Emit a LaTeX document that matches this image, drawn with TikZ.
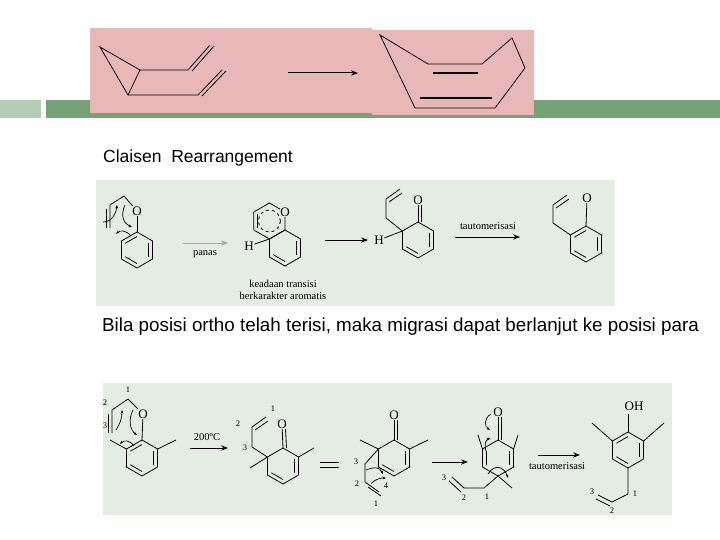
\documentclass[tikz,border=0pt]{standalone}
\usepackage{fontspec}
\setmainfont{Liberation Serif}
\newfontfamily\arialf{Liberation Sans}
\usetikzlibrary{arrows.meta,calc}
\definecolor{pinkbg}{HTML}{E8B8B9}
\definecolor{barg}{HTML}{76A277}
\definecolor{barl}{HTML}{B2CDB3}
\definecolor{boxg}{HTML}{E5ECE4}
\tikzset{bond/.style={line width=0.8pt,black},
 rarrow/.style={line width=1pt,-{Stealth[length=7pt]}},
 curly/.style={line width=0.7pt,-{Stealth[length=3.5pt]}},
 atom/.style={font=\fontsize{13}{13}\selectfont,inner sep=0.5pt},
 num/.style={font=\fontsize{8.5}{8.5}\selectfont,inner sep=0.5pt},
 lbl/.style={font=\fontsize{10.5}{12}\selectfont,inner sep=1pt}}
\newcommand\ringat[4]{% name, x, y, r
 \coordinate (#1c) at (#2,#3);
 \coordinate (#11) at ($(#2,#3)+(270:#4)$);
 \coordinate (#12) at ($(#2,#3)+(330:#4)$);
 \coordinate (#13) at ($(#2,#3)+(30:#4)$);
 \coordinate (#14) at ($(#2,#3)+(90:#4)$);
 \coordinate (#15) at ($(#2,#3)+(150:#4)$);
 \coordinate (#16) at ($(#2,#3)+(210:#4)$);
 \draw[bond] (#11)--(#12)--(#13)--(#14)--(#15)--(#16)--cycle;}
\newcommand\inb[3]{\draw[bond] ($(#1c)!0.75!(#1#2)$)--($(#1c)!0.75!(#1#3)$);}
\begin{document}
\begin{tikzpicture}[x=1pt,y=-1pt]
\useasboundingbox (0,0) rectangle (720,540);
% header bar
\fill[barl] (0,100) rectangle (41,118);
\fill[barg] (46,100) rectangle (720,118);
\fill[pinkbg] (90,28) rectangle (372,113);
\fill[pinkbg] (372,30) rectangle (534,115);
% top left molecule
\coordinate (p1) at (100,47); \coordinate (p2) at (140,70); \coordinate (p3) at (128,95);
\coordinate (p4) at (188,70); \coordinate (p5) at (210,45);
\coordinate (p6) at (198,95); \coordinate (p7) at (222,70);
\draw[bond] (p1)--(p2)--(p3)--cycle; \draw[bond] (p2)--(p4)--(p5); \draw[bond] (p3)--(p6)--(p7);
\draw[bond] ($(p4)+(4,1)$)--($(p5)+(4,1)$); \draw[bond] ($(p6)+(4,1)$)--($(p7)+(4,1)$);
\coordinate (ta1) at (288,73); \coordinate (ta2) at (358,73);
\draw[rarrow] (ta1)--(ta2);
\coordinate (q1) at (380,35); \coordinate (q2) at (428,64); \coordinate (q3) at (482,64);
\coordinate (q4) at (512,38); \coordinate (q5) at (525,68); \coordinate (q6) at (495,108); \coordinate (q7) at (415,108);
\draw[bond] (q1)--(q2)--(q3)--(q4)--(q5)--(q6)--(q7)--cycle;
\draw[line width=1.3pt] (433,73)--(478,73); \draw[line width=1.3pt] (420,98)--(492,98);
% texts
\node[anchor=west,font=\arialf\fontsize{17.5}{18}\selectfont,inner sep=0] (t1) at (103,158) {Claisen\ \ Rearrangement};
\node[anchor=west,font=\arialf\fontsize{18.8}{19}\selectfont,inner sep=0] (t2) at (102,327) {Bila posisi ortho telah terisi, maka migrasi dapat berlanjut ke posisi para};
% box 1
\fill[boxg] (96,180) rectangle (615,306);
\ringat{a}{137}{250}{18}
\inb{a}{2}{3}\inb{a}{4}{5}\inb{a}{6}{1}
\node[atom,fill=boxg] (oa) at (137,211) {O};
\draw[bond] (a1)--(oa); \coordinate (a7) at (124,196); \coordinate (a8) at (110,205); \coordinate (a9) at (110,228);
\draw[bond] (oa)--(a7)--(a8)--(a9); \draw[bond] (106,209)--(106,228);
\draw[curly] (103,222) .. controls (112,222) and (116,214) .. (117,205);
\draw[curly] (125,205) .. controls (120,216) and (124,224) .. (132,227);
\draw[curly] (131,236) .. controls (126,230) and (120,230) .. (116,234);
\draw[rarrow,gray!70] (183,243)--(228,243);
\node[lbl] (pn) at (205,254) {panas};
\ringat{b}{285}{248}{18}
\ringat{c}{269.4}{221}{18}
\inb{b}{2}{3}\inb{b}{4}{5}\inb{c}{5}{6}
\draw[bond,dashed] (cc) circle (11);
\node[atom,fill=boxg] (ob) at (c2) {O};
\node[atom] (hb) at (249,246) {H};
\draw[bond] (hb)--(b6);
\node[lbl,align=center] (kt) at (283,290) {keadaan transisi\\berkarakter aromatis};
\draw[rarrow] (325,240)--(368,240);
\ringat{d}{418}{240}{18}
\inb{d}{2}{3}\inb{d}{4}{5}
\node[atom] (od) at (418,200) {O};
\draw[bond] (d1)--(od); \draw[bond] ($(d1)+(3.5,0)$)--($(od.south)+(3.5,0)$);
\node[atom] (hd) at (379,240) {H}; \draw[bond] (hd)--(d6);
\coordinate (d7) at (386,218); \coordinate (d8) at (386,199); \coordinate (d9) at (400,189);
\draw[bond] (d6)--(d7)--(d8)--(d9); \draw[bond] (389,202)--(402,193);
\draw[rarrow] (455,237)--(520,237);
\node[lbl] (tau1) at (488,226) {tautomerisasi};
\ringat{e}{586}{244}{18}
\inb{e}{2}{3}\inb{e}{4}{5}\inb{e}{6}{1}
\node[atom] (oe) at (587,198) {O};
\draw[bond] (e1)--(oe);
\coordinate (e7) at (553,223); \coordinate (e8) at (553,205); \coordinate (e9) at (567,195);
\draw[bond] (e6)--(e7)--(e8)--(e9); \draw[bond] (556,208)--(569,199);
% box 2
\fill[boxg] (103,383) rectangle (672,515);
% A
\ringat{A}{142}{458}{18}
\inb{A}{2}{3}\inb{A}{4}{5}\inb{A}{6}{1}
\node[atom,fill=boxg] (oA) at (143,414) {O};
\draw[bond] (A1)--(oA);
\coordinate (A7) at (128,399); \coordinate (A8) at (112,410); \coordinate (A9) at (112,433);
\draw[bond] (oA)--(A7)--(A8)--(A9); \draw[bond] (108,414)--(108,433);
\draw[bond] (A6)--(110,440); \draw[bond] (A2)--(176,440);
\node[num] (nA1) at (128,390) {1}; \node[num] (nA2) at (105,403) {2}; \node[num] (nA3) at (105,426) {3};
\draw[curly] (116,430) .. controls (120,424) and (122,418) .. (122,410);
\draw[curly] (133,410) .. controls (128,420) and (130,430) .. (137,435);
\draw[curly] (134,446) .. controls (130,440) and (124,440) .. (120,444);
\draw[rarrow] (190,448)--(228,448);
\node[lbl] (tc) at (207,437) {200ºC};
% B
\ringat{B}{283}{466}{18}
\inb{B}{2}{3}\inb{B}{4}{5}
\node[atom] (oB) at (282,424) {O};
\draw[bond] (B1)--(oB); \draw[bond] ($(B1)+(3.5,0)$)--($(oB.south)+(3.5,0)$);
\draw[bond] (B2)--(314,448); \draw[bond] (B6)--(250,468);
\coordinate (B7) at (252,447); \coordinate (B8) at (252,427); \coordinate (B9) at (266,417);
\draw[bond] (B6)--(B7)--(B8)--(B9); \draw[bond] (255,430)--(268,421);
\node[num] (nB3) at (245,448) {3}; \node[num] (nB2) at (238,424) {2}; \node[num] (nB1) at (273,409) {1};
\draw[bond] (320,462)--(339,462); \draw[bond] (320,467)--(339,467);
% C
\ringat{C}{394}{458}{18}
\inb{C}{2}{3}\inb{C}{4}{5}
\node[atom] (oC) at (394,415) {O};
\draw[bond] (C1)--(oC); \draw[bond] ($(C1)+(3.5,0)$)--($(oC.south)+(3.5,0)$);
\draw[bond] (C6)--(360,440); \draw[bond] (C2)--(428,440);
\coordinate (C7) at (365,464); \coordinate (C8) at (365,482); \coordinate (C9) at (379,492);
\draw[bond] (C6)--(C7)--(C8)--(C9); \draw[bond] (368,487)--(381,496);
\node[num] (nC3) at (356,462) {3}; \node[num] (nC2) at (357,484) {2}; \node[num] (nC1) at (376,504) {1}; \node[num] (nC4) at (386,486) {4};
\draw[curly] (366,470) .. controls (376,466) and (380,468) .. (383,474);
\draw[curly] (371,484) .. controls (376,478) and (382,478) .. (386,478);
\draw[rarrow] (432,462)--(468,462);
% D
\ringat{D}{498}{458}{18}
\inb{D}{2}{3}\inb{D}{5}{6}
\node[atom] (oD) at (498,412) {O};
\draw[bond] (D1)--(oD); \draw[bond] ($(D1)+(3.5,0)$)--($(oD.south)+(3.5,0)$);
\draw[bond] (D6)--(478,435); \draw[bond] (D2)--(518,435);
\draw[bond] (D4)--(512,488);
\coordinate (D7) at (484,488); \coordinate (D8) at (464,488); \coordinate (D9) at (452,477);
\draw[bond] (D4)--(D7)--(D8)--(D9); \draw[bond] (461,492)--(449,481);
\node[num] (nD3) at (444,478) {3}; \node[num] (nD2) at (464,498) {2}; \node[num] (nD1) at (487,497) {1};
\draw[curly] (491,414) .. controls (484,418) and (484,426) .. (490,430);
\draw[curly] (486,451) .. controls (484,444) and (486,440) .. (490,438);
\draw[curly] (488,474) .. controls (494,464) and (504,466) .. (508,478);
\draw[rarrow] (538,455)--(580,455);
\node[lbl] (tau2) at (557,466) {tautomerisasi};
% E
\ringat{E}{628}{450}{18}
\inb{E}{2}{3}\inb{E}{4}{5}\inb{E}{6}{1}
\node[atom] (oE) at (634,406) {OH};
\draw[bond] (E1)--(628,414);
\draw[bond] (E6)--(592,423); \draw[bond] (E2)--(664,423);
\coordinate (E7) at (628,494); \coordinate (E8) at (612,502); \coordinate (E9) at (598,495);
\draw[bond] (E4)--(E7)--(E8)--(E9); \draw[bond] (610,506)--(596,499);
\node[num] (nE1) at (635,494) {1}; \node[num] (nE2) at (612,511) {2}; \node[num] (nE3) at (592,492) {3};
\end{tikzpicture}
\end{document}
